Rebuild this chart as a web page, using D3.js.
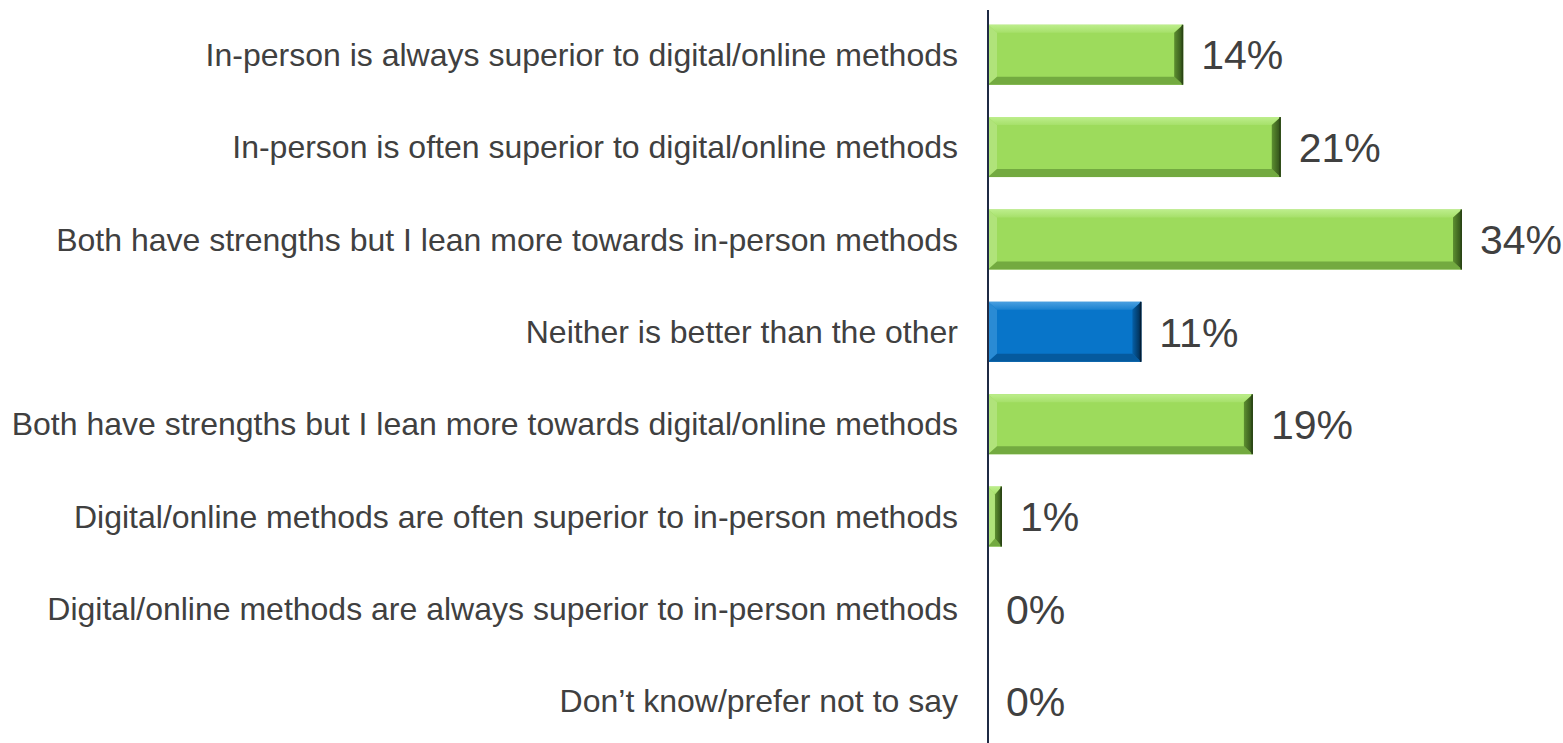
<!DOCTYPE html>
<html>
<head>
<meta charset="utf-8">
<script src="https://cdn.jsdelivr.net/npm/d3@7"></script>
<style>
  html, body { margin: 0; padding: 0; background: #ffffff; }
  svg { display: block; }
</style>
</head>
<body>
<svg id="chart" width="1563" height="743"></svg>
<script>
// Survey responses: in-person vs digital/online methods
const categories = [
  "In-person is always superior to digital/online methods",
  "In-person is often superior to digital/online methods",
  "Both have strengths but I lean more towards in-person methods",
  "Neither is better than the other",
  "Both have strengths but I lean more towards digital/online methods",
  "Digital/online methods are often superior to in-person methods",
  "Digital/online methods are always superior to in-person methods",
  "Don\u2019t know/prefer not to say"
];
const values = [14, 21, 34, 11, 19, 1, 0, 0];
const highlight = [false, false, false, true, false, false, false, false];

const W = 1563, H = 743;
const axisX = 988;
const svg = d3.select("#chart");

const x = d3.scaleLinear().domain([0, 34]).range([axisX, axisX + 474]);
const y = d3.scaleBand().domain(categories).range([9, 747]).paddingInner(0.35).paddingOuter(0.17);

const palettes = {
  green: { name: "g", face: "#9ddb5c", top: "#bdee8c", topEnd: "#a6e06a", left: "#b0e37a", bottom: "#73aa40", right: "#5d8f30", rightEnd: "#2f4d18", edge: "#2a4515" },
  blue:  { name: "b", face: "#0875c9", top: "#4a9fe0", topEnd: "#1a82d0", left: "#2a8bd4", bottom: "#055a9e", right: "#0560a8", rightEnd: "#022a4c", edge: "#021e36" }
};

// Gradients for the bevel faces
const defs = svg.append("defs");
Object.values(palettes).forEach(p => {
  const gt = defs.append("linearGradient").attr("id", "top-" + p.name)
    .attr("x1", 0).attr("y1", 0).attr("x2", 0).attr("y2", 1);
  gt.append("stop").attr("offset", "0%").attr("stop-color", p.top);
  gt.append("stop").attr("offset", "100%").attr("stop-color", p.topEnd);
  const gr = defs.append("linearGradient").attr("id", "right-" + p.name)
    .attr("x1", 0).attr("y1", 0).attr("x2", 1).attr("y2", 0);
  gr.append("stop").attr("offset", "0%").attr("stop-color", p.right);
  gr.append("stop").attr("offset", "100%").attr("stop-color", p.rightEnd);
});

const data = categories.map((c, i) => ({ cat: c, v: values[i], hi: highlight[i] }));

// Bevelled bars
const bars = svg.append("g").selectAll("g.bar")
  .data(data.filter(d => d.v > 0))
  .join("g").attr("class", "bar");

bars.each(function(d) {
  const g = d3.select(this);
  const p = d.hi ? palettes.blue : palettes.green;
  const x0 = x(0), x1 = x(d.v), y0 = y(d.cat), y1 = y0 + y.bandwidth();
  const w = x1 - x0;
  const b = Math.min(9, w / 2);
  const bv = 8;
  g.append("rect").attr("x", x0).attr("y", y0).attr("width", w).attr("height", y1 - y0).attr("fill", p.face);
  g.append("polygon").attr("fill", `url(#top-${p.name})`)
    .attr("points", [[x0, y0], [x1, y0], [x1 - b, y0 + bv], [x0 + b, y0 + bv]].join(" "));
  g.append("polygon").attr("fill", p.left)
    .attr("points", [[x0, y0], [x0 + b, y0 + bv], [x0 + b, y1 - bv], [x0, y1]].join(" "));
  g.append("polygon").attr("fill", p.bottom)
    .attr("points", [[x0, y1], [x0 + b, y1 - bv], [x1 - b, y1 - bv], [x1, y1]].join(" "));
  g.append("polygon").attr("fill", `url(#right-${p.name})`)
    .attr("points", [[x1, y0], [x1 - b, y0 + bv], [x1 - b, y1 - bv], [x1, y1]].join(" "));
  g.append("line").attr("x1", x1 - 0.75).attr("x2", x1 - 0.75).attr("y1", y0).attr("y2", y1)
    .attr("stroke", p.edge).attr("stroke-width", 1.5);
});

// Category axis line
svg.append("line")
  .attr("x1", axisX).attr("x2", axisX)
  .attr("y1", 10).attr("y2", H)
  .attr("stroke", "#1f2a44").attr("stroke-width", 2);

// Category labels
svg.append("g").selectAll("text")
  .data(data).join("text")
  .attr("x", axisX - 30)
  .attr("y", d => y(d.cat) + y.bandwidth() / 2)
  .attr("dy", "0.35em")
  .attr("text-anchor", "end")
  .attr("font-family", "Liberation Sans, Arial, sans-serif")
  .attr("font-size", 32)
  .attr("fill", "#404040")
  .text(d => d.cat);

// Value labels
svg.append("g").selectAll("text")
  .data(data).join("text")
  .attr("x", d => x(d.v) + 18)
  .attr("y", d => y(d.cat) + y.bandwidth() / 2)
  .attr("dy", "0.36em")
  .attr("font-family", "Liberation Sans, Arial, sans-serif")
  .attr("font-size", 41)
  .attr("fill", "#404040")
  .text(d => d.v + "%");
</script>
</body>
</html>
